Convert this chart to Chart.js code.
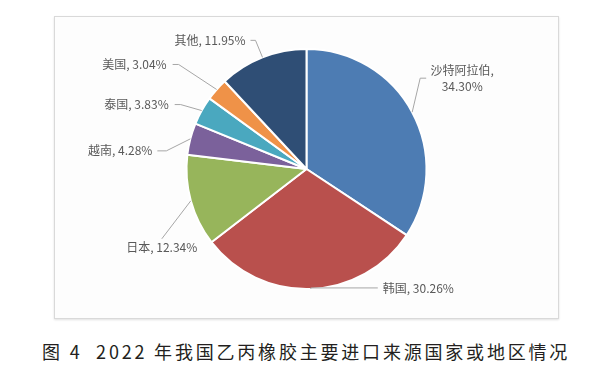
<!DOCTYPE html>
<html>
<head>
<meta charset="utf-8">
<script src="https://cdn.jsdelivr.net/npm/chart.js@4/dist/chart.umd.min.js"></script>
<style>
  body { margin: 0; background: #fff; width: 594px; height: 371px; position: relative; overflow: hidden; }
  #box { position: absolute; left: 54px; top: 16px; width: 503px; height: 301px;
         border: 1px solid #d9d9d9; background: #fdfdfd; box-shadow: 0 1px 2px rgba(0,0,0,0.12); }
  #caption { position: absolute; left: 42px; top: 341px; font: 18px "Noto Sans CJK SC", sans-serif;
             letter-spacing: 2.8px; color: #231f20; white-space: pre; line-height: 20px; }
</style>
</head>
<body>
<div id="box"><canvas id="chartCanvas" width="503" height="301"></canvas></div>
<div id="caption">图 4  2022 年我国乙丙橡胶主要进口来源国家或地区情况</div>
<script>
// import sources, share in percent (clockwise from 12 o'clock)
const countries = ['沙特阿拉伯', '韩国', '日本', '越南', '泰国', '美国', '其他'];
const shares = [34.30, 30.26, 12.34, 4.28, 3.83, 3.04, 11.95];
const sliceColors = ['#4d7cb3', '#b9504d', '#97b55b', '#7b619b', '#4aa8bf', '#ef9248', '#2f4e75'];

// label placement: elbow offset from the slice edge, horizontal stub, text offset, alignment
const labelLayout = [
    { elbow: [8, -34], stub: 6, text: [36, 0], align: 'center', wrap: true },
    { elbow: [0, -1], stub: 67, text: [5, 1], align: 'left' },
    { elbow: [-29, 38], stub: 0, text: [0, 9], align: 'center' },
    { elbow: [-24, 12], stub: -9, text: [-5, 0], align: 'right' },
    { elbow: [-21, -6], stub: -6, text: [-6, 0], align: 'right' },
    { elbow: [-38, -25], stub: -6, text: [-6, 0], align: 'right' },
    { elbow: [-7, -17], stub: -5, text: [-5, 0], align: 'right' }
];

const leaderLabels = {
    id: 'leaderLabels',
    afterDatasetsDraw(chart) {
        const ctx = chart.ctx;
        const arcs = chart.getDatasetMeta(0).data;
        ctx.save();
        ctx.font = '12px "Noto Sans CJK SC", sans-serif';
        ctx.textBaseline = 'middle';
        arcs.forEach(function (arc, i) {
            const p = arc.getProps(['x', 'y', 'startAngle', 'endAngle', 'outerRadius']);
            const mid = (p.startAngle + p.endAngle) / 2;
            const ex = p.x + p.outerRadius * Math.cos(mid);
            const ey = p.y + p.outerRadius * Math.sin(mid);
            const lay = labelLayout[i];
            const bx = ex + lay.elbow[0];
            const by = ey + lay.elbow[1];
            const sx = bx + lay.stub;

            ctx.strokeStyle = '#a6a6a6';
            ctx.lineWidth = 1;
            ctx.beginPath();
            ctx.moveTo(ex, ey);
            ctx.lineTo(bx, by);
            ctx.lineTo(sx, by);
            ctx.stroke();

            ctx.fillStyle = '#595959';
            ctx.textAlign = lay.align;
            const tx = sx + lay.text[0];
            const ty = by + lay.text[1];
            const pct = shares[i].toFixed(2) + '%';
            if (lay.wrap) {
                ctx.fillText(countries[i] + ',', tx, ty - 8);
                ctx.fillText(pct, tx, ty + 8);
            } else {
                ctx.fillText(countries[i] + ', ' + pct, tx, ty);
            }
        });
        ctx.restore();
    }
};

const chart = new Chart(document.getElementById('chartCanvas').getContext('2d'), {
    type: 'pie',
    data: {
        labels: countries,
        datasets: [{
            data: shares,
            backgroundColor: sliceColors,
            borderColor: '#ffffff',
            borderWidth: 2
        }]
    },
    options: {
        responsive: false,
        animation: false,
        devicePixelRatio: 1,
        layout: { padding: { top: 31, bottom: 28 } },
        plugins: {
            legend: { display: false },
            tooltip: { enabled: false }
        }
    },
    plugins: [leaderLabels]
});
</script>
</body>
</html>
